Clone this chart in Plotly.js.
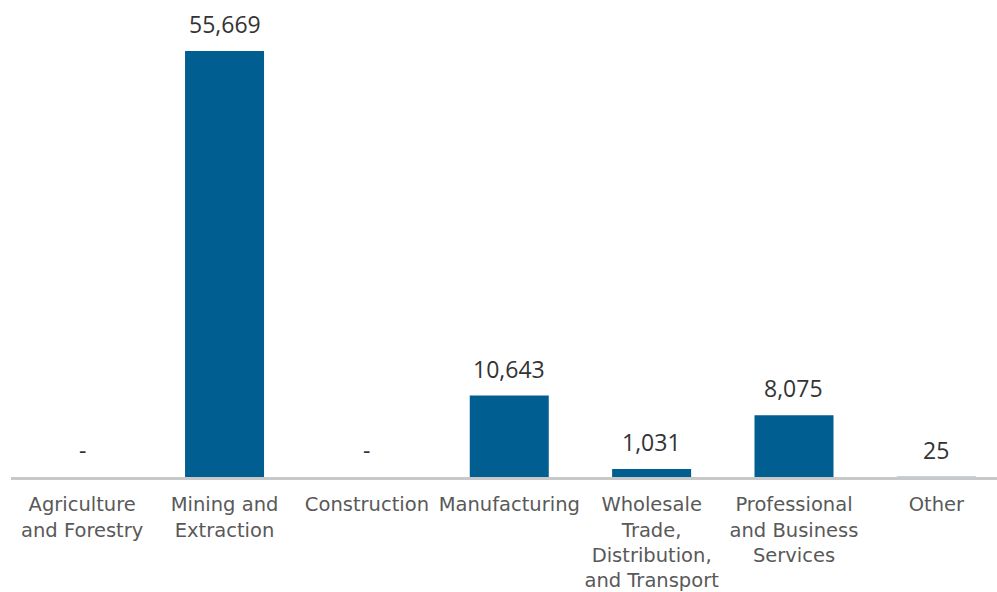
<!DOCTYPE html>
<html>
<head>
<meta charset="utf-8">
<script src="https://cdn.plot.ly/plotly-3.0.1.min.js"></script>
<style>html,body{margin:0;padding:0;background:#fff;}#chart{width:997px;height:592px;}</style>
</head>
<body>
<div id="chart"></div>
<script>
const categories = ["Agriculture<br>and Forestry", "Mining and<br>Extraction", "Construction", "Manufacturing", "Wholesale<br>Trade,<br>Distribution,<br>and Transport", "Professional<br>and Business<br>Services", "Other"];
const values = [0, 55669, 0, 10643, 1031, 8075, 25];
const valueLabels = ["-", "55,669", "-", "10,643", "1,031", "8,075", "25"];

const VFONT = "Open Sans, Arial, sans-serif";
const TFONT = "DejaVu Sans, Arial, sans-serif";
const trace = {
  type: "bar",
  x: categories,
  y: values,
  width: categories.map(() => 0.555),
  marker: {color: "#005E91", line: {width: 0}},
  hoverinfo: "skip"
};
const annotations = categories.map((c, i) => ({
  x: c, y: values[i], xref: "x", yref: "y",
  text: valueLabels[i], showarrow: false,
  yanchor: "middle", yshift: 27,
  font: {family: VFONT, size: 23, color: "#333333"}
}));
const layout = {
  width: 997, height: 592,
  margin: {l: 11, r: 0, t: 0, b: 114.5},
  paper_bgcolor: "#ffffff", plot_bgcolor: "#ffffff",
  showlegend: false,
  xaxis: {
    range: [-0.5, 6.426],
    showline: true, linecolor: "#C8C8C8", linewidth: 3,
    showgrid: false, zeroline: false, ticks: "",
    ticklabelstandoff: 8,
    tickfont: {family: TFONT, size: 19.5, color: "#595959"},
    tickangle: 0, automargin: false
  },
  yaxis: {
    range: [0, 62325], visible: false, showgrid: false, zeroline: false
  },
  annotations: annotations
};
Plotly.newPlot("chart", [trace], layout, {staticPlot: true, displayModeBar: false});
</script>
</body>
</html>
